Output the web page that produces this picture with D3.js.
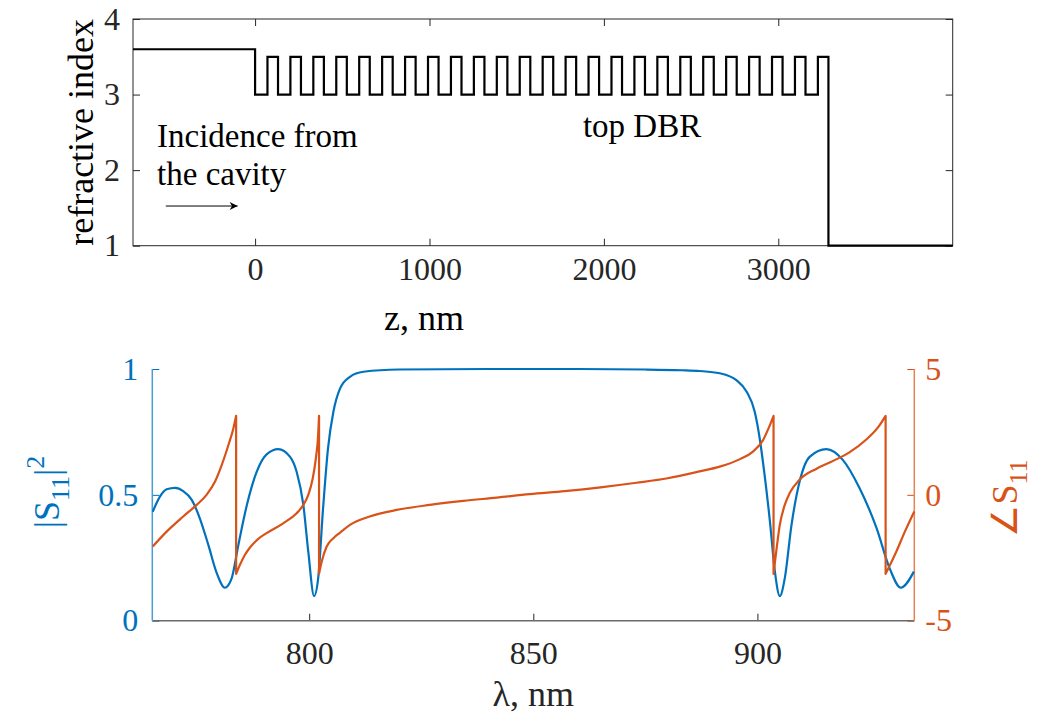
<!DOCTYPE html>
<html>
<head>
<meta charset="utf-8">
<script src="https://cdn.jsdelivr.net/npm/d3@7"></script>
<style>
	body { margin: 0; background: #fff; }
	svg { display: block; }
	text { font-family: "Liberation Serif", "Times New Roman", serif; }
</style>
</head>
<body>
<div id="chart-area"></div>
<script>

// ---- DATA ----

// top panel: layer structure (z in nm)
let zDomain = [-700, 4000];
let nTicksZ = [0, 1000, 2000, 3000];
let nTicksN = [1, 2, 3, 4];
let cavityIndex = 3.6;
let dbrIndex = [3.0, 3.5];        // low, high layer
let dbrThickness = [71, 60.5];    // nm
let dbrPairs = 25;
let exitIndex = 1.0;

// bottom panel: wavelength (nm) and |S11|^2
let lambdaS = [765.1, 766.7, 768.2, 770.1, 771.9, 773.8, 775.6, 777.5, 779.4, 781.2,
	782.7, 784.2, 786.1, 788.3, 790.5, 793.1, 795.7, 797.2, 798.7, 799.8,
	801.1, 802.0, 803.1, 804.2, 805.4, 806.9, 809.1, 812.1, 820, 840,
	860, 875, 883, 887.1, 891.6, 895.3, 897.6, 899.4, 900.5, 901.6,
	902.8, 903.9, 905.0, 906.1, 907.6, 909.4, 911.7, 915.4, 919.1, 922.8,
	926.6, 929.5, 932.0, 934.9];
let s11Power = [0.433, 0.493, 0.522, 0.528, 0.515, 0.480, 0.407, 0.301, 0.188, 0.131,
	0.168, 0.301, 0.460, 0.592, 0.661, 0.682, 0.652, 0.592, 0.460, 0.274,
	0.098, 0.168, 0.447, 0.685, 0.830, 0.923, 0.969, 0.989, 0.998, 1.0,
	1.0, 0.998, 0.995, 0.992, 0.983, 0.956, 0.910, 0.830, 0.725, 0.579,
	0.393, 0.195, 0.098, 0.168, 0.380, 0.552, 0.652, 0.682, 0.638, 0.526,
	0.367, 0.208, 0.131, 0.195];

// phase of S11 (rad), split at the 2*pi wraps
let phaseSegments = [
	{ lambda: [765.1, 768.2, 771.9, 774.9, 777.1, 779.0, 780.5, 782.0, 783.1, 783.7],
	  phase:  [-2.05, -1.46, -0.86, -0.40, 0.0, 0.53, 1.19, 1.99, 2.65, 3.14] },
	{ lambda: [783.7, 784.56, 785.67, 786.79, 788.64, 790.5, 794.2, 797.2, 798.7, 799.8, 800.8, 801.5, 802.0, 802.2],
	  phase:  [-3.14, -2.78, -2.38, -2.09, -1.75, -1.52, -1.13, -0.73, -0.40, 0.0, 0.66, 1.46, 2.38, 3.14] },
	{ lambda: [802.2, 802.8, 803.9, 805.4, 806.9, 809.1, 813.5, 819.5, 826.9, 834.4, 841.8, 849.2, 857, 865, 873, 880, 887.1, 891.6, 896.1, 899.0, 901.3, 902.5, 903.6],
	  phase:  [-3.14, -2.65, -2.05, -1.72, -1.50, -1.19, -0.86, -0.60, -0.40, -0.24, -0.11, 0.03, 0.15, 0.30, 0.48, 0.66, 0.93, 1.12, 1.42, 1.72, 2.19, 2.65, 3.14] },
	{ lambda: [903.6, 904.2, 905.0, 906.1, 907.2, 909.4, 913.2, 916.9, 920.6, 924.3, 926.9, 928.6],
	  phase:  [-3.14, -2.25, -1.19, -0.40, 0.07, 0.60, 1.04, 1.35, 1.70, 2.20, 2.68, 3.14] },
	{ lambda: [928.6, 931.0, 932.9, 935.0],
	  phase:  [-3.14, -2.25, -1.46, -0.66] }
];

let lambdaDomain = [765, 935];
let lambdaTicks = [800, 850, 900];
let powerTicks = [0, 0.5, 1];
let phaseTicks = [-5, 0, 5];


// ---- CHART AREA ----

let W = 1037, H = 717;
let blue = "#0072BD", orange = "#D95319", axisGrey = "#262626";
let tickLen = 7;

let svg = d3.select("#chart-area").append("svg")
	.attr("width", W)
	.attr("height", H);

// plain number labels, hyphen for negatives
let plainFormat = d => (d < 0 ? "-" : "") + Math.abs(d);


/*****************************************/
/*   TOP PANEL - REFRACTIVE INDEX        */
/*****************************************/

let top1 = {left: 133, right: 952.7, top: 19, bottom: 245.7};

let zScale = d3.scaleLinear().domain(zDomain).range([top1.left, top1.right]);
let nScale = d3.scaleLinear().domain([1, 4]).range([top1.bottom, top1.top]);

// build step profile from the layer list
let profile = [[zDomain[0], cavityIndex]];
let z = 0;
for (let p = 0; p < dbrPairs; p++) {
	for (let k = 0; k < 2; k++) {
		profile.push([z, dbrIndex[k]]);
		z += dbrThickness[k];
	}
}
profile.push([z, exitIndex]);
profile.push([zDomain[1], exitIndex]);

let g1 = svg.append("g");

function styleAxis(sel, color) {
	sel.select(".domain").remove();
	sel.selectAll(".tick line").attr("stroke", color);
	sel.selectAll(".tick text")
		.attr("fill", color)
		.style("font-size", "32px")
		.style("font-family", "'Liberation Serif', 'Times New Roman', serif");
}

g1.append("g")
	.attr("transform", "translate(0," + top1.bottom + ")")
	.call(d3.axisBottom(zScale).tickValues(nTicksZ).tickFormat(plainFormat).tickSizeInner(-tickLen).tickSizeOuter(0).tickPadding(12))
	.call(styleAxis, axisGrey);

g1.append("g")
	.attr("transform", "translate(0," + top1.top + ")")
	.call(d3.axisTop(zScale).tickValues(nTicksZ).tickSizeInner(-tickLen).tickSizeOuter(0).tickFormat(""))
	.call(styleAxis, axisGrey);

g1.append("g")
	.attr("transform", "translate(" + top1.left + ",0)")
	.call(d3.axisLeft(nScale).tickValues(nTicksN).tickFormat(plainFormat).tickSizeInner(-tickLen).tickSizeOuter(0).tickPadding(13))
	.call(styleAxis, axisGrey);

g1.append("g")
	.attr("transform", "translate(" + top1.right + ",0)")
	.call(d3.axisRight(nScale).tickValues(nTicksN).tickSizeInner(-tickLen).tickSizeOuter(0).tickFormat(""))
	.call(styleAxis, axisGrey);

g1.append("rect")
	.attr("x", top1.left)
	.attr("y", top1.top)
	.attr("width", top1.right - top1.left)
	.attr("height", top1.bottom - top1.top)
	.attr("fill", "none")
	.attr("stroke", axisGrey)
	.attr("stroke-width", 1);

g1.append("path")
	.datum(profile)
	.attr("fill", "none")
	.attr("stroke", "#000")
	.attr("stroke-width", 2.2)
	.attr("d", d3.line().x(d => zScale(d[0])).y(d => nScale(d[1])).curve(d3.curveStepAfter));

// axis titles
g1.append("text")
	.attr("x", 424)
	.attr("y", 330)
	.attr("text-anchor", "middle")
	.style("font-size", "36px")
	.attr("fill", "#000")
	.text("z, nm");

g1.append("text")
	.attr("transform", "translate(93," + ((top1.top + top1.bottom) / 2) + ") rotate(-90)")
	.attr("text-anchor", "middle")
	.style("font-size", "36px")
	.attr("fill", "#000")
	.text("refractive index");

// annotations
g1.append("text")
	.attr("x", zScale(-562))
	.attr("y", nScale(2.31))
	.style("font-size", "33px")
	.text("Incidence from");

g1.append("text")
	.attr("x", zScale(-562))
	.attr("y", nScale(1.80))
	.style("font-size", "33px")
	.text("the cavity");

g1.append("text")
	.attr("x", zScale(1880))
	.attr("y", nScale(2.44))
	.style("font-size", "33px")
	.text("top DBR");

svg.append("defs").append("marker")
	.attr("id", "arrow")
	.attr("viewBox", "0 0 10 10")
	.attr("refX", 10)
	.attr("refY", 5)
	.attr("markerWidth", 11)
	.attr("markerHeight", 8)
	.attr("markerUnits", "userSpaceOnUse")
	.attr("orient", "auto")
	.append("path")
	.attr("d", "M0,0 L10,5 L0,10 L3,5 Z")
	.attr("fill", "#000");

g1.append("line")
	.attr("x1", zScale(-512))
	.attr("x2", zScale(-100))
	.attr("y1", nScale(1.525))
	.attr("y2", nScale(1.525))
	.attr("stroke", "#000")
	.attr("stroke-width", 1)
	.attr("marker-end", "url(#arrow)");


/*****************************************/
/*   BOTTOM PANEL - S11                  */
/*****************************************/

let bot = {left: 152.3, right: 914.3, top: 369, bottom: 620.7};

let xScale = d3.scaleLinear().domain(lambdaDomain).range([bot.left, bot.right]);
let yLeft = d3.scaleLinear().domain([0, 1]).range([bot.bottom, bot.top]);
let yRight = d3.scaleLinear().domain([-5, 5]).range([bot.bottom, bot.top]);

let g2 = svg.append("g");

g2.append("g")
	.attr("transform", "translate(0," + bot.bottom + ")")
	.call(d3.axisBottom(xScale).tickValues(lambdaTicks).tickFormat(plainFormat).tickSizeInner(-tickLen).tickSizeOuter(0).tickPadding(21))
	.call(styleAxis, axisGrey);

g2.append("g")
	.attr("transform", "translate(" + bot.left + ",0)")
	.call(d3.axisLeft(yLeft).tickValues(powerTicks).tickFormat(plainFormat).tickSizeInner(-tickLen).tickSizeOuter(0).tickPadding(14))
	.call(styleAxis, blue);

g2.append("g")
	.attr("transform", "translate(" + bot.right + ",0)")
	.call(d3.axisRight(yRight).tickValues(phaseTicks).tickFormat(plainFormat).tickSizeInner(-tickLen).tickSizeOuter(0).tickPadding(11))
	.call(styleAxis, orange);

// axis lines
g2.append("line")
	.attr("x1", bot.left).attr("x2", bot.right)
	.attr("y1", bot.bottom).attr("y2", bot.bottom)
	.attr("stroke", "#6a6a6a").attr("stroke-width", 1.5);
g2.append("line")
	.attr("x1", bot.left).attr("x2", bot.left)
	.attr("y1", bot.top).attr("y2", bot.bottom)
	.attr("stroke", "#4b9bd6").attr("stroke-width", 1.5);
g2.append("line")
	.attr("x1", bot.right).attr("x2", bot.right)
	.attr("y1", bot.top).attr("y2", bot.bottom)
	.attr("stroke", "#e58355").attr("stroke-width", 1.5);

// |S11|^2 curve
let powerData = lambdaS.map((l, i) => [l, s11Power[i]]);
g2.append("path")
	.datum(powerData)
	.attr("fill", "none")
	.attr("stroke", blue)
	.attr("stroke-width", 2.2)
	.attr("d", d3.line().x(d => xScale(d[0])).y(d => yLeft(d[1])).curve(d3.curveMonotoneX));

// phase curve, segments joined by vertical wraps
let phaseLine = d3.line().x(d => xScale(d[0])).y(d => yRight(d[1])).curve(d3.curveMonotoneX);
let phasePath = phaseSegments.map((s, i) => {
	let pathStr = phaseLine(s.lambda.map((l, j) => [l, s.phase[j]]));
	return i === 0 ? pathStr : "L" + pathStr.slice(1);
}).join("");

g2.append("path")
	.attr("fill", "none")
	.attr("stroke", orange)
	.attr("stroke-width", 2.2)
	.attr("stroke-linejoin", "round")
	.attr("d", phasePath);

// axis titles
g2.append("text")
	.attr("x", (bot.left + bot.right) / 2)
	.attr("y", 706)
	.attr("text-anchor", "middle")
	.style("font-size", "36px")
	.attr("fill", "#262626")
	.text("\u03bb, nm");

let leftTitle = g2.append("text")
	.attr("transform", "translate(59,492) rotate(-90)")
	.attr("text-anchor", "middle")
	.style("font-size", "36px")
	.attr("fill", blue);
leftTitle.append("tspan").text("|S");
leftTitle.append("tspan").attr("dy", 10).style("font-size", "26px").text("11");
leftTitle.append("tspan").attr("dy", -10).text("|");
leftTitle.append("tspan").attr("dy", -15).style("font-size", "26px").text("2");

let rightTitle = g2.append("text")
	.attr("transform", "translate(1017,498) rotate(-90)")
	.attr("text-anchor", "middle")
	.style("font-size", "36px")
	.attr("fill", orange);
rightTitle.append("tspan").text("\u2220S");
rightTitle.append("tspan").attr("dy", 10).style("font-size", "26px").text("11");

</script>
</body>
</html>
